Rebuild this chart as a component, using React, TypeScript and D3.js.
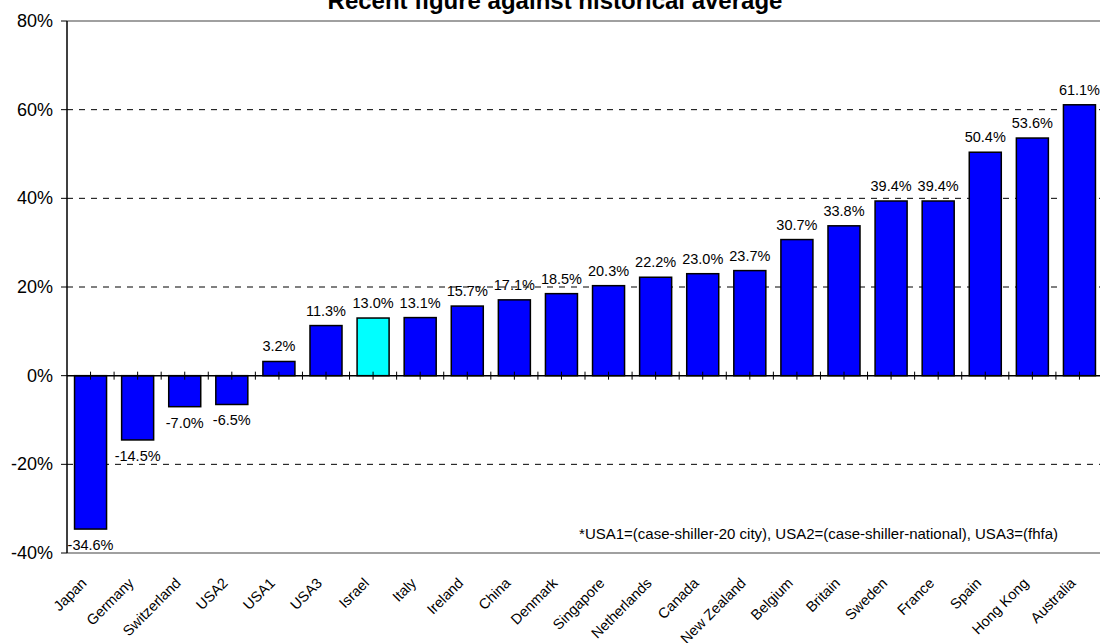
import React, { useRef, useEffect } from 'react';
import * as d3 from 'd3';

const countries = ['Japan', 'Germany', 'Switzerland', 'USA2', 'USA1', 'USA3', 'Israel', 'Italy', 'Ireland', 'China', 'Denmark', 'Singapore', 'Netherlands', 'Canada', 'New Zealand', 'Belgium', 'Britain', 'Sweden', 'France', 'Spain', 'Hong Kong', 'Australia'];
const values = [-34.6, -14.5, -7.0, -6.5, 3.2, 11.3, 13.0, 13.1, 15.7, 17.1, 18.5, 20.3, 22.2, 23.0, 23.7, 30.7, 33.8, 39.4, 39.4, 50.4, 53.6, 61.1];
const yTicks = [-40, -20, 0, 20, 40, 60, 80];
const highlight = 'Israel';
const title = 'Recent figure against historical average';
const footnote = '*USA1=(case-shiller-20 city), USA2=(case-shiller-national), USA3=(fhfa)';

const App = () => {
    const ref = useRef<SVGSVGElement>(null);

    useEffect(() => {
        const svg = d3.select(ref.current);
        svg.selectAll('*').remove();

        const width = 1100;
        const height = 643;
        const margin = { top: 21, right: -3, bottom: 90, left: 67 };
        const font = 'Liberation Sans, Arial, sans-serif';

        const x = d3.scaleBand()
            .domain(countries)
            .range([margin.left, width - margin.right])
            .paddingInner(0.32)
            .paddingOuter(0.16);

        const slot = d3.scaleBand()
            .domain(countries)
            .range([margin.left, width - margin.right]);

        const y = d3.scaleLinear()
            .domain([-40, 80])
            .range([height - margin.bottom, margin.top]);

        // title (partly above the top edge, as in the original)
        svg.append('text')
            .attr('x', 555)
            .attr('y', 9)
            .attr('text-anchor', 'middle')
            .style('font-family', font)
            .style('font-size', '24px')
            .style('font-weight', 'bold')
            .text(title);

        // gridlines
        svg.append('g')
            .selectAll('line')
            .data(yTicks.filter(d => d !== 0))
            .enter()
            .append('line')
            .attr('x1', margin.left)
            .attr('x2', width)
            .attr('y1', d => y(d))
            .attr('y2', d => y(d))
            .attr('stroke', d => (d === 80 || d === -40 ? '#808080' : '#000'))
            .attr('stroke-width', d => (d === 80 || d === -40 ? 1.5 : 1))
            .attr('stroke-dasharray', d => (d === 80 || d === -40 ? null : '6,6'));

        // bars
        svg.append('g')
            .selectAll('rect')
            .data(countries)
            .enter()
            .append('rect')
            .attr('x', d => x(d))
            .attr('width', x.bandwidth())
            .attr('y', (d, i) => y(Math.max(0, values[i])))
            .attr('height', (d, i) => Math.abs(y(values[i]) - y(0)))
            .attr('fill', d => (d === highlight ? '#00FFFF' : '#0000FF'))
            .attr('stroke', '#000')
            .attr('stroke-width', 1.5);

        // zero axis with ticks
        svg.append('line')
            .attr('x1', margin.left)
            .attr('x2', width)
            .attr('y1', y(0))
            .attr('y2', y(0))
            .attr('stroke', '#000')
            .attr('stroke-width', 1.5);

        const tickX = countries.map(c => slot(c) + slot.bandwidth() / 2)
            .concat(countries.map(c => slot(c) + slot.bandwidth()));
        svg.append('g')
            .selectAll('line')
            .data(tickX)
            .enter()
            .append('line')
            .attr('x1', d => d)
            .attr('x2', d => d)
            .attr('y1', y(0) - 4)
            .attr('y2', y(0) + 4)
            .attr('stroke', '#000');

        // y axis
        svg.append('line')
            .attr('x1', margin.left)
            .attr('x2', margin.left)
            .attr('y1', y(80))
            .attr('y2', y(-40))
            .attr('stroke', '#000')
            .attr('stroke-width', 1.5);

        const yAxis = svg.append('g');
        yAxis.selectAll('line')
            .data(yTicks)
            .enter()
            .append('line')
            .attr('x1', margin.left - 6)
            .attr('x2', margin.left)
            .attr('y1', d => y(d))
            .attr('y2', d => y(d))
            .attr('stroke', '#000');

        yAxis.selectAll('text')
            .data(yTicks)
            .enter()
            .append('text')
            .attr('x', margin.left - 14)
            .attr('y', d => y(d) + 6)
            .attr('text-anchor', 'end')
            .style('font-family', font)
            .style('font-size', '18px')
            .text(d => d + '%');

        // value labels
        svg.append('g')
            .selectAll('text')
            .data(countries)
            .enter()
            .append('text')
            .attr('x', d => x(d) + x.bandwidth() / 2)
            .attr('y', (d, i) => (values[i] >= 0 ? y(values[i]) - 10 : y(values[i]) + 21))
            .attr('text-anchor', 'middle')
            .style('font-family', font)
            .style('font-size', '14.5px')
            .text((d, i) => values[i].toFixed(1) + '%');

        // category labels
        svg.append('g')
            .selectAll('text')
            .data(countries)
            .enter()
            .append('text')
            .attr('transform', d => `translate(${x(d) + x.bandwidth() / 2 - 3},${y(-40) + 31}) rotate(-45)`)
            .attr('text-anchor', 'end')
            .style('font-family', font)
            .style('font-size', '14.5px')
            .text(d => d);

        // footnote
        svg.append('text')
            .attr('x', 1058)
            .attr('y', 539)
            .attr('text-anchor', 'end')
            .style('font-family', font)
            .style('font-size', '15px')
            .text(footnote);
    }, []);

    return (
        <svg
            ref={ref}
            width={1100}
            height={643}
            style={{ position: 'absolute', left: 0, top: 0, background: '#fff' }}
        />
    );
};

export default App;
